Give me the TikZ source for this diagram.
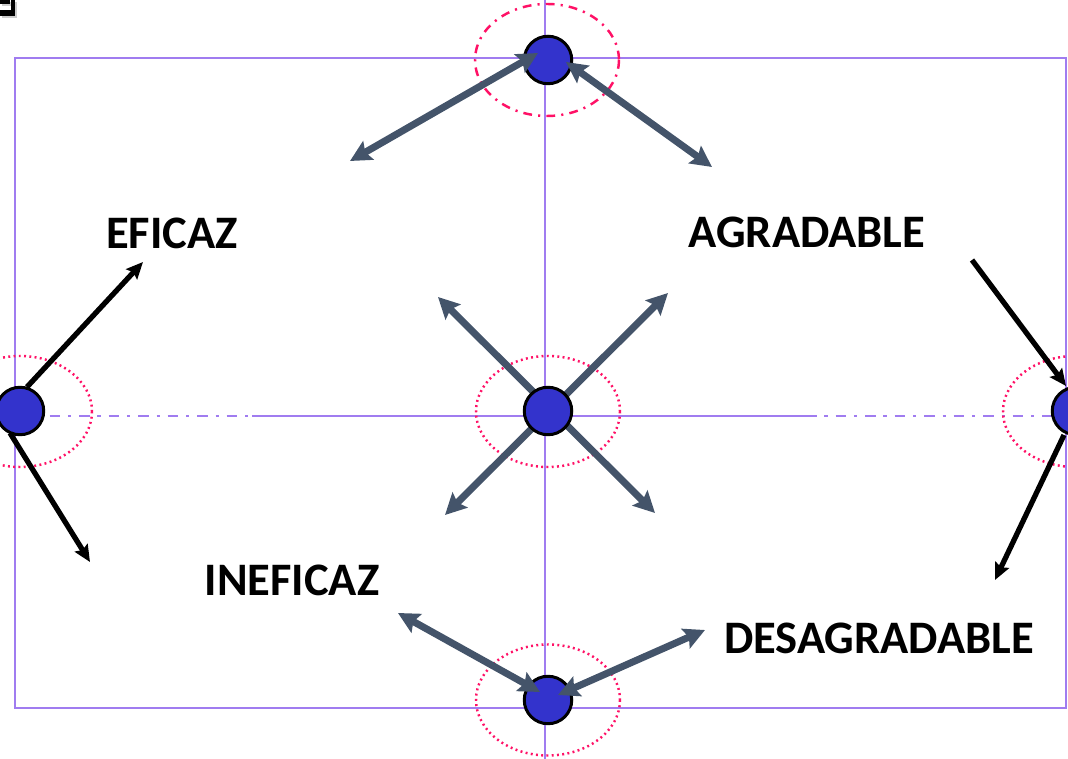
\documentclass[tikz,border=0pt]{standalone}
\usepackage{fontspec}
\setmainfont{Carlito}
\usetikzlibrary{arrows.meta}
\definecolor{frame}{HTML}{A07CF0}
\definecolor{pinkd}{HTML}{FF1166}
\definecolor{ballblue}{HTML}{3333CC}
\definecolor{arrgray}{HTML}{44546A}
\tikzset{
  frameline/.style={draw=frame, line width=1.5pt},
  framedash/.style={draw=frame, line width=1.7pt, dash pattern=on 6pt off 4.5pt on 1.8pt off 4.5pt},
  ring/.style={draw=pinkd, line width=1.4pt, dash pattern=on 1.1pt off 1.9pt},
  ringdash/.style={draw=pinkd, line width=1.4pt, dash pattern=on 5pt off 3.5pt on 1.2pt off 3.5pt},
  ball/.style={circle, draw=black, line width=1.7pt, fill=ballblue, minimum size=0.95cm, inner sep=0pt},
  grayarrow/.style={draw=arrgray, line width=4pt, {Stealth[length=12pt,width=12pt,inset=2pt]}-{Stealth[length=12pt,width=12pt,inset=2pt]}},
  blackarrow/.style={draw=black, line width=3pt, -{Stealth[length=9.5pt,width=8.5pt,inset=1.5pt]}},
  lbl/.style={font=\fontsize{26.5}{31}\selectfont\bfseries, anchor=base, inner sep=0pt}
}
\begin{document}
\begin{tikzpicture}[x=0.02cm,y=-0.02cm]
\useasboundingbox (0,0) rectangle (1068,759);
% corner fragment
\fill[gray!40] (2,2) rectangle (12,6);
\fill[gray!40] (13,2) rectangle (17,18);
\fill[gray!40] (2,12) rectangle (17,18);
\fill[black] (0,0) rectangle (10,4);
\fill[black] (11,0) rectangle (15,16);
\fill[black] (0,10) rectangle (15,16);
% frame
\coordinate (tl) at (15,58);
\coordinate (tr) at (1066,58);
\coordinate (bl) at (15,708);
\coordinate (br) at (1066,708);
\coordinate (vt) at (545,0);
\coordinate (vb) at (545,759);
\coordinate (ml) at (20,416);
\coordinate (ms1) at (252,416);
\coordinate (ms2) at (806,416);
\coordinate (mr) at (1066,416);
\draw[frameline] (tl) -- (tr) -- (br) -- (bl) -- cycle;
\draw[frameline] (vt) -- (vb);
\draw[framedash] (ml) -- (ms1);
\draw[frameline] (ms1) -- (ms2);
\draw[framedash] (ms2) -- (mr);
% rings
\draw[ringdash] (547,60) ellipse [x radius=72, y radius=56];
\draw[ring] (548,411.5) ellipse [x radius=72, y radius=55.5];
\draw[ring] (548,700) ellipse [x radius=72, y radius=55.5];
\draw[ring] (20,411.5) ellipse [x radius=72, y radius=55.5];
\draw[ring] (1075,411.5) ellipse [x radius=72, y radius=55.5];
% arrow end points
\coordinate (cNW) at (438,297);
\coordinate (cSE) at (655,513);
\coordinate (cNE) at (668,293);
\coordinate (cSW) at (445,515);
\draw[grayarrow] (cNW) -- (cSE);
\draw[grayarrow] (cNE) -- (cSW);
% balls
\node[ball] (top) at (548,60) {};
\node[ball] (center) at (548,411) {};
\node[ball] (bottom) at (548,700) {};
\node[ball] (left) at (20,411) {};
\node[ball] (right) at (1076,411) {};
% top arrows
\coordinate (t1) at (350,161);
\coordinate (t1e) at (538,53);
\coordinate (t2) at (712,167);
\coordinate (t2e) at (566,62);
\draw[grayarrow] (t1) -- (t1e);
\draw[grayarrow] (t2) -- (t2e);
% bottom arrows
\coordinate (b1) at (398,613);
\coordinate (b1e) at (540,692);
\coordinate (b2) at (705,630);
\coordinate (b2e) at (558,695);
\draw[grayarrow] (b1) -- (b1e);
\draw[grayarrow] (b2) -- (b2e);
% black arrows
\coordinate (l1s) at (27,387);
\coordinate (l1e) at (143,262);
\coordinate (l2s) at (10,433);
\coordinate (l2e) at (90,562);
\coordinate (r1s) at (972,260);
\coordinate (r1e) at (1066,386);
\coordinate (r2s) at (1064,435);
\coordinate (r2e) at (995,580);
\draw[blackarrow] (l1s) -- (l1e);
\draw[blackarrow] (l2s) -- (l2e);
\draw[blackarrow] (r1s) -- (r1e);
\draw[blackarrow] (r2s) -- (r2e);
% labels
\node[lbl] (eficaz) at (172,249) {EFICAZ};
\node[lbl] (agradable) at (807,248) {AGRADABLE};
\node[lbl] (ineficaz) at (292,596) {INEFICAZ};
\node[lbl] (desagradable) at (879,653) {DESAGRADABLE};
\end{tikzpicture}
\end{document}
